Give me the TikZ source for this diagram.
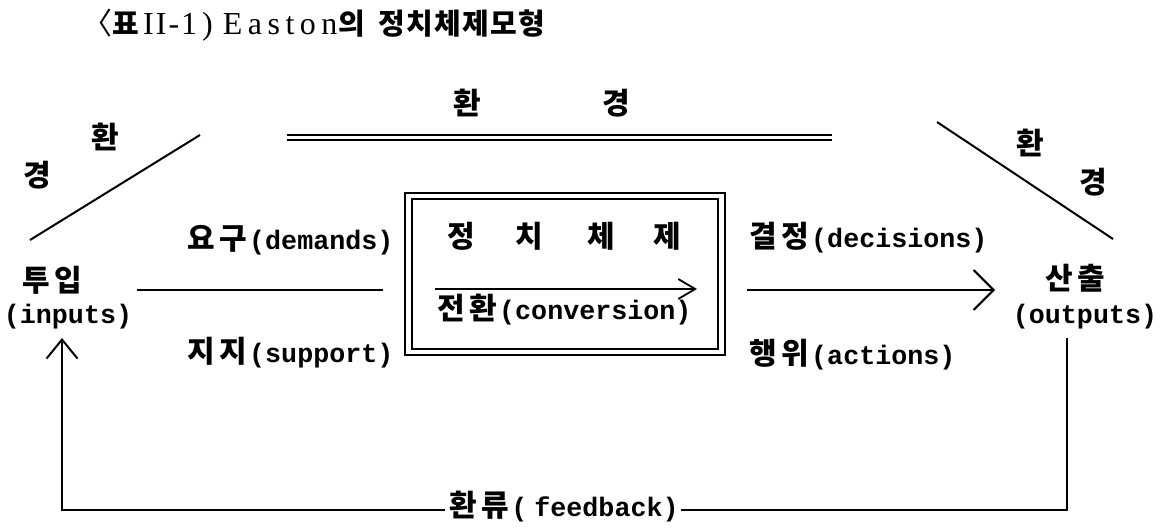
\documentclass[tikz,border=0pt]{standalone}
\usepackage{fontspec}
\usetikzlibrary{arrows.meta}
\newfontfamily\kr{Noto Sans CJK KR}
\newfontfamily\lat{Liberation Mono}
\newfontfamily\tserif{Liberation Serif}
\newcommand\kc[1]{\makebox[32pt]{\kr\bfseries\fontsize{30}{32}\selectfont #1}}
\newcommand\tk[3][c]{\makebox[#2][#1]{\kr\bfseries\fontsize{29}{30}\selectfont #3}}
\tikzset{
  lbl/.style={inner sep=0pt, font=\lat\bfseries\fontsize{26.7}{30}\selectfont},
  ln/.style={line width=2pt},
}
\begin{document}
\begin{tikzpicture}[x=1pt,y=-1pt]
\useasboundingbox (0,0) rectangle (1172,528);
% title
\node[inner sep=0pt, anchor=west, font=\tserif\fontsize{32}{36}\selectfont] (title) at (82,25)
  {\makebox[30pt][l]{\kr\fontsize{30}{32}\selectfont 〈}\tk{28pt}{표}\hspace{3pt}%
   I\kern2pt I\kern2pt -\kern2pt 1\kern5pt )\hspace{10pt}%
   E\kern5.5pt a\kern5.5pt s\kern5.5pt t\kern5.5pt o\kern5.5pt n%
   \tk{28pt}{의}\hspace{12pt}%
   \tk{28pt}{정}\tk{28pt}{치}\tk{28pt}{체}\tk{28pt}{제}\tk{28pt}{모}\tk{28pt}{형}};
% environment labels
\node[lbl] (envT) at (542,103) {\kc{환}\hspace{117pt}\kc{경}};
\node[lbl] (envL1) at (105,137) {\kc{환}};
\node[lbl] (envL2) at (37,175) {\kc{경}};
\node[lbl] (envR1) at (1030,143) {\kc{환}};
\node[lbl] (envR2) at (1093,182) {\kc{경}};
% double line and diagonals
\coordinate (dlA) at (287,137.5);
\coordinate (dlB) at (832,137.5);
\draw[double, double distance=3pt, line width=1.8pt] (dlA) -- (dlB);
\coordinate (dgLa) at (30,240);
\coordinate (dgLb) at (200,135);
\draw[ln] (dgLa) -- (dgLb);
\coordinate (dgRa) at (937,122);
\coordinate (dgRb) at (1113,239);
\draw[ln] (dgRa) -- (dgRb);
% system box
\node[draw, line width=2.5pt, minimum width=320pt, minimum height=162pt, inner sep=0pt] (sysO) at (565,274) {};
\node[draw, line width=1.5pt, minimum width=306pt, minimum height=150pt, inner sep=0pt] (sysI) at (565,274) {};
\node[lbl] (pol) at (564,236) {\kc{정}\hspace{36pt}\kc{치}\hspace{40pt}\kc{체}\hspace{34pt}\kc{제}};
\node[lbl, anchor=west] (conv) at (435,310) {\kc{전}\kc{환}(conversion)};
\coordinate (cvA) at (435,289);
\coordinate (cvB) at (697,289);
\draw[line width=1.8pt, -{Straight Barb[length=17pt,width=20pt]}] (cvA) -- (cvB);
% inputs side
\node[lbl] (inp) at (52,280) {\kc{투}\kc{입}};
\node[lbl] (inps) at (68,317) {(inputs)};
\node[lbl, anchor=west] (dem) at (185,240) {\kc{요}\kc{구}(demands)};
\node[lbl, anchor=west] (sup) at (185,353) {\kc{지}\kc{지}(support)};
\coordinate (inA) at (137,290);
\coordinate (inB) at (383,290);
\draw[ln] (inA) -- (inB);
% outputs side
\node[lbl] (out) at (1075,278) {\kc{산}\kc{출}};
\node[lbl] (outs) at (1085,317) {(outputs)};
\node[lbl, anchor=west] (dec) at (747,238) {\kc{결}\kc{정}(decisions)};
\node[lbl, anchor=west] (act) at (747,355) {\kc{행}\kc{위}(actions)};
\coordinate (decA) at (747,290);
\coordinate (decB) at (995,290);
\draw[ln, -{Straight Barb[length=20pt,width=40pt]}] (decA) -- (decB);
% feedback
\node[lbl] (fb) at (563,507) {\kc{환}\kc{류}(\kern7pt feedback)};
\coordinate (fbL) at (62,510);
\coordinate (fbR) at (1067,510);
\coordinate (upTip) at (62,338);
\coordinate (outBot) at (1067,338);
\draw[ln, -{Straight Barb[length=19pt,width=31pt]}] ([xshift=-2pt]fb.west |- fbL) -- (fbL) -- (upTip);
\draw[ln] ([xshift=2pt]fb.east |- fbR) -- (fbR) -- (outBot);
\end{tikzpicture}
\end{document}
